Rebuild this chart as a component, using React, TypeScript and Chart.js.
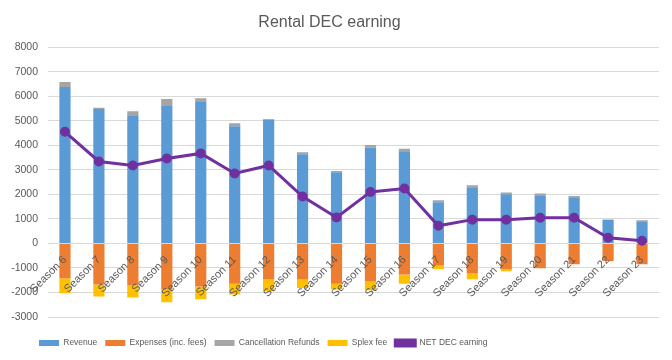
import React, { useEffect, useRef } from "react";
import { Chart, registerables } from "chart.js";

Chart.register(...registerables);

const seasons = [
  "Season 6", "Season 7", "Season 8", "Season 9", "Season 10", "Season 11",
  "Season 12", "Season 13", "Season 14", "Season 15", "Season 16", "Season 17",
  "Season 18", "Season 19", "Season 20", "Season 21", "Season 22", "Season 23",
];
const revenue = [6380, 5480, 5230, 5600, 5800, 4780, 5040, 3640, 2900, 3900, 3760, 1680, 2290, 2000, 1960, 1880, 970, 900];
const expenses = [-1420, -1680, -1720, -1870, -1760, -1640, -1470, -1470, -1640, -1550, -1270, -900, -1230, -1050, -1010, -850, -720, -850];
const cancellationRefunds = [200, 50, 160, 290, 120, 120, 30, 80, 50, 110, 95, 80, 80, 80, 80, 50, 10, 40];
const splexFee = [-610, -480, -480, -530, -520, -440, -480, -350, -230, -355, -370, -150, -230, -80, 0, 0, 0, 0];
const netEarning = [4550, 3340, 3180, 3460, 3670, 2850, 3180, 1910, 1060, 2100, 2240, 720, 970, 970, 1050, 1050, 230, 110];

const TEXT = "#595959";
const GRID = "#d9d9d9";
const FONT = "'Liberation Sans', Arial, sans-serif";

const legendShift = {
  id: "legendShift",
  afterLayout(chart: any) {
    const lg = chart.legend;
    if (lg) {
      lg.left += 31;
      lg.right += 31;
    }
  },
};

export default function App() {
  const ref = useRef<HTMLCanvasElement>(null);

  useEffect(() => {
    const ctx = ref.current!;
    const chart = new Chart(ctx, {
      type: "bar",
      data: {
        labels: seasons,
        datasets: [
          { type: "bar", label: "Revenue", data: revenue, backgroundColor: "#5B9BD5", stack: "s", order: 2 },
          { type: "bar", label: "Expenses (inc. fees)", data: expenses, backgroundColor: "#ED7D31", stack: "s", order: 2 },
          { type: "bar", label: "Cancellation Refunds", data: cancellationRefunds, backgroundColor: "#A5A5A5", stack: "s", order: 2 },
          { type: "bar", label: "Splex fee", data: splexFee, backgroundColor: "#FFC000", stack: "s", order: 2 },
          {
            type: "line",
            label: "NET DEC earning",
            data: netEarning,
            borderColor: "#7030A0",
            backgroundColor: "#7030A0",
            borderWidth: 3,
            pointRadius: 3.5,
            pointBackgroundColor: "#7030A0",
            pointBorderColor: "#7030A0",
            tension: 0,
            order: 1,
          } as any,
        ],
      },
      options: {
        animation: false,
        responsive: true,
        maintainAspectRatio: false,
        layout: { padding: { left: 0, right: 13, top: 0, bottom: 2.8 } },
        datasets: { bar: { categoryPercentage: 1, barPercentage: 0.33 } } as any,
        plugins: {
          title: {
            display: true,
            text: "Rental DEC earning",
            color: TEXT,
            font: { family: FONT, size: 16, weight: "normal" },
            padding: { top: 13, bottom: 15 },
          },
          legend: {
            position: "bottom",
            align: "start",
            title: { display: true, text: " ", font: { size: 1 }, padding: { top: 12.5, bottom: 0 } } as any,
            labels: {
              color: TEXT,
              font: { family: FONT, size: 8.5 },
              boxWidth: 20,
              boxHeight: 6,
              padding: 8,
              sort: (a: any, b: any) => a.datasetIndex - b.datasetIndex,
            },
          },
          tooltip: { enabled: false },
        },
        scales: {
          x: {
            stacked: true,
            position: { y: 0 } as any,
            grid: { display: false },
            border: { display: false },
            ticks: {
              z: 1,
              color: TEXT,
              font: { family: FONT, size: 11 },
              minRotation: 45,
              maxRotation: 45,
              autoSkip: false,
              padding: 2,
            } as any,
          },
          y: {
            stacked: true,
            min: -3000,
            max: 8000,
            ticks: {
              stepSize: 1000,
              color: TEXT,
              font: { family: FONT, size: 10.5 },
              padding: 10,
              callback: (v: any) => String(v),
            },
            grid: { color: GRID, lineWidth: 1, drawTicks: false },
            border: { display: false },
            afterFit: (scale: any) => {
              scale.width = 48;
            },
          },
        },
      },
      plugins: [legendShift],
    });
    return () => chart.destroy();
  }, []);

  return (
    <div style={{ position: "fixed", left: 0, top: 0, width: 672, height: 360, background: "#fff" }}>
      <canvas ref={ref} />
    </div>
  );
}
